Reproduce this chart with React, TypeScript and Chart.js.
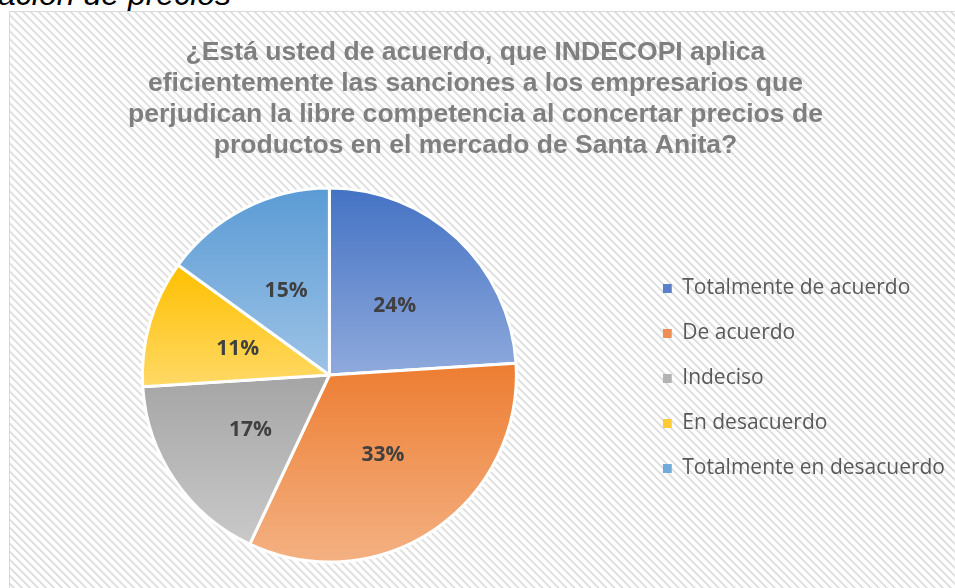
import React, { useEffect, useRef } from 'react';
import { Chart, registerables } from 'chart.js';

Chart.register(...registerables);

const categories = [
  'Totalmente de acuerdo',
  'De acuerdo',
  'Indeciso',
  'En desacuerdo',
  'Totalmente en desacuerdo',
];
const percentages = [24, 33, 17, 11, 15];
const topColors = ['#4472C4', '#ED7D31', '#A5A5A5', '#FFC000', '#5B9BD5'];
const bottomColors = ['#8FAADC', '#F4B183', '#C9C9C9', '#FFD966', '#9DC3E6'];
const legendColors = ['#5A80CC', '#EF8E52', '#B3B3B3', '#FFCA33', '#72AADB'];
const titleLines = [
  '¿Está usted de acuerdo, que INDECOPI aplica',
  'eficientemente las sanciones a los empresarios que',
  'perjudican la libre competencia al concertar precios de',
  'productos en el mercado de Santa Anita?',
];
const captionText = 'ación de precios';

const PIE_RADIUS = 187;

function sliceGradient(ctx: any) {
  const chart = ctx.chart;
  const i = ctx.dataIndex;
  const area = chart.chartArea;
  if (i === undefined || !area) return topColors[0];
  const cy = (area.top + area.bottom) / 2;
  const total = percentages.reduce((a, b) => a + b, 0);
  let before = 0;
  for (let j = 0; j < i; j++) before += percentages[j];
  const a0 = -Math.PI / 2 + (before / total) * Math.PI * 2;
  const a1 = a0 + (percentages[i] / total) * Math.PI * 2;
  const ys = [cy, cy + PIE_RADIUS * Math.sin(a0), cy + PIE_RADIUS * Math.sin(a1)];
  for (const t of [-Math.PI / 2, Math.PI / 2, (3 * Math.PI) / 2]) {
    if (t >= a0 - 1e-9 && t <= a1 + 1e-9) ys.push(cy + PIE_RADIUS * Math.sin(t));
  }
  const y0 = Math.min(...ys);
  const y1 = Math.max(...ys);
  const g = chart.ctx.createLinearGradient(0, y0, 0, y1);
  g.addColorStop(0, topColors[i]);
  g.addColorStop(1, bottomColors[i]);
  return g;
}

const labelPlugin = {
  id: 'sliceLabels',
  afterDatasetsDraw(chart: any) {
    const { ctx } = chart;
    const meta = chart.getDatasetMeta(0);
    ctx.save();
    ctx.font = 'bold 21px "Open Sans"';
    ctx.fillStyle = '#404040';
    ctx.textAlign = 'center';
    ctx.textBaseline = 'middle';
    meta.data.forEach((arc: any, i: number) => {
      const { x, y, startAngle, endAngle, outerRadius } = arc.getProps(['x', 'y', 'startAngle', 'endAngle', 'outerRadius']);
      const mid = (startAngle + endAngle) / 2;
      const r = outerRadius * 0.51;
      ctx.fillText(`${percentages[i]}%`, x + Math.cos(mid) * r, y + Math.sin(mid) * r + 1);
    });
    ctx.restore();
  },
};

export default function App() {
  const ref = useRef<HTMLCanvasElement | null>(null);

  useEffect(() => {
    if (!ref.current) return;
    const chart = new Chart(ref.current, {
      type: 'pie',
      data: {
        labels: categories,
        datasets: [
          {
            data: percentages,
            backgroundColor: sliceGradient as any,
            borderColor: '#ffffff',
            borderWidth: 3,
          },
        ],
      },
      options: {
        responsive: false,
        animation: false,
        events: [],
        radius: PIE_RADIUS,
        layout: { padding: { left: 1, right: 0, top: 0, bottom: 0 } },
        plugins: {
          title: {
            display: true,
            text: titleLines,
            color: '#7F7F7F',
            font: { family: '"Liberation Sans", Arial, sans-serif', size: 26.55, weight: 'bold', lineHeight: '31px' },
            padding: { top: 25, bottom: 1 },
          },
          legend: {
            position: 'right',
            fullSize: false,
            title: { display: true, text: '', padding: 0, font: { size: 12, lineHeight: '31px' } },
            labels: {
              boxWidth: 9,
              boxHeight: 9,
              padding: 0,
              color: '#595959',
              font: { family: '"Open Sans", sans-serif', size: 21, lineHeight: '45px' },
              generateLabels: () =>
                categories.map((text, i) => ({
                  text: [text],
                  fillStyle: legendColors[i],
                  strokeStyle: legendColors[i],
                  lineWidth: 0,
                  hidden: false,
                  index: i,
                  fontColor: '#595959',
                })),
            },
          },
          tooltip: { enabled: false },
        },
      } as any,
      plugins: [labelPlugin],
    });
    return () => chart.destroy();
  }, []);

  return (
    <div style={{ position: 'fixed', left: 0, top: 0, width: 955, height: 588, overflow: 'hidden', background: '#ffffff' }}>
      <div
        style={{
          position: 'absolute',
          left: -2,
          top: -21,
          font: 'italic 32px "Liberation Sans", Arial, sans-serif',
          lineHeight: '31px',
          color: '#000000',
          whiteSpace: 'nowrap',
        }}
      >
        {captionText}
      </div>
      <div
        style={{
          position: 'absolute',
          left: 9,
          top: 11,
          width: 980,
          height: 620,
          boxSizing: 'border-box',
          border: '1px solid #d9d9d9',
          background:
            'repeating-linear-gradient(45deg, #ffffff 0px, #ffffff 3.2px, #e0e0e0 3.6px, #e0e0e0 5.2px, #ffffff 5.66px)',
        }}
      />
      <canvas
        ref={ref}
        width={960}
        height={576}
        style={{ position: 'absolute', left: -5, top: 12, width: 960, height: 576 }}
      />
    </div>
  );
}
